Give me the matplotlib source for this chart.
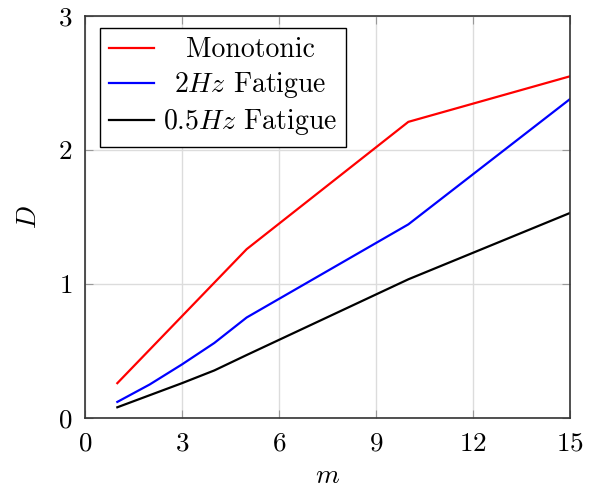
import matplotlib
matplotlib.use("Agg")
import matplotlib.pyplot as plt
import matplotlib.transforms as mtransforms

# data
m_mono = [1, 5, 10, 15]
d_mono = [0.26, 1.26, 2.21, 2.55]

m_fat = [1, 2, 3, 4, 5, 10, 15]
d_2hz = [0.12, 0.25, 0.40, 0.56, 0.75, 1.445, 2.38]
d_05hz = [0.08, 0.17, 0.26, 0.355, 0.47, 1.035, 1.53]

labels = ["Monotonic", "$2Hz$ Fatigue", "$0.5Hz$ Fatigue"]
xticks = [0, 3, 6, 9, 12, 15]
yticks = [0, 1, 2, 3]

plt.rcParams["font.family"] = "serif"
plt.rcParams["font.serif"] = ["cmr10"]
plt.rcParams["mathtext.fontset"] = "cm"
plt.rcParams["axes.formatter.use_mathtext"] = True

fig = plt.figure(figsize=(5.95, 4.88), dpi=100)
ax = fig.add_axes([85 / 595, 70 / 488, 485 / 595, 402 / 488])

ax.plot(m_mono, d_mono, color="red", lw=1.6, label=labels[0])
ax.plot(m_fat, d_2hz, color="blue", lw=1.6, label=labels[1])
ax.plot(m_fat, d_05hz, color="black", lw=1.6, label=labels[2])

ax.set_xlim(0, 15)
ax.set_ylim(0, 3)
ax.set_xticks(xticks)
ax.set_yticks(yticks)
ax.grid(True, color="#dcdcdc", lw=1.0)
ax.tick_params(direction="in", top=True, right=True, length=6,
               color="#999999", labelsize=19.5)
ax.tick_params(axis="x", pad=10)
ax.tick_params(axis="y", pad=9)
for s in ax.spines.values():
    s.set_color("#333333")
    s.set_linewidth(1.2)

ax.set_xlabel("$m$", fontsize=19.5, labelpad=6)
ax.set_ylabel("$D$", fontsize=19.5, labelpad=12)

leg = ax.legend(loc="upper left", fontsize=20, fancybox=False,
                edgecolor="black", framealpha=1, handlelength=1.6,
                borderpad=0.33, labelspacing=0.25, handletextpad=0.35,
                borderaxespad=0, bbox_to_anchor=(15 / 485, 1 - 12 / 402))
leg.get_frame().set_linewidth(1.0)

# centre the legend labels like pgfplots does
fig.canvas.draw()
r = fig.canvas.get_renderer()
texts = leg.get_texts()
widths = [t.get_window_extent(r).width for t in texts]
wmax = max(widths)
for t, w in zip(texts, widths):
    t.set_transform(t.get_transform() + mtransforms.Affine2D().translate((wmax - w) / 2, 0))

fig.savefig("out.png", dpi=100)
